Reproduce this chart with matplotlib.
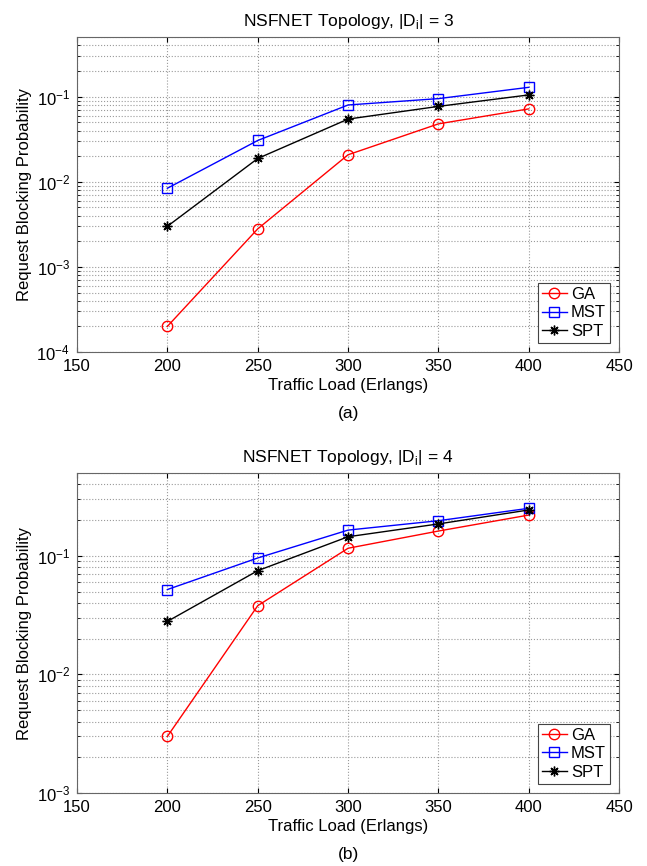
import matplotlib
matplotlib.use("Agg")
import matplotlib.pyplot as plt
from matplotlib.ticker import LogLocator, NullFormatter

plt.rcParams['font.family'] = ['Liberation Sans', 'DejaVu Sans']
plt.rcParams['mathtext.fontset'] = 'custom'
plt.rcParams['mathtext.rm'] = 'Liberation Sans'

loads = [200, 250, 300, 350, 400]
series_names = ["GA", "MST", "SPT"]

# |D_i| = 3
ga_3 = [2.0e-4, 2.8e-3, 0.0208, 0.048, 0.072]
mst_3 = [8.4e-3, 0.0306, 0.080, 0.095, 0.129]
spt_3 = [3.0e-3, 0.0188, 0.0546, 0.077, 0.105]

# |D_i| = 4
ga_4 = [3.0e-3, 0.038, 0.116, 0.162, 0.221]
mst_4 = [0.052, 0.096, 0.165, 0.198, 0.252]
spt_4 = [0.028, 0.075, 0.145, 0.186, 0.244]

styles = [dict(color='red', marker='o', mfc='none', ms=7.5),
          dict(color='blue', marker='s', mfc='none', ms=7),
          dict(color='black', marker=(8, 2, 0), ms=7)]


def draw_panel(ax, data, ylim, title, tag):
    for vals, name, st in zip(data, series_names, styles):
        ax.semilogy(loads, vals, label=name, lw=1.0, mew=1.0, **st)
    ax.set_xlim(150, 450)
    ax.set_ylim(*ylim)
    ax.set_xticks([150, 200, 250, 300, 350, 400, 450])
    ax.yaxis.set_minor_locator(LogLocator(base=10, subs=range(2, 10), numticks=20))
    ax.yaxis.set_minor_formatter(NullFormatter())
    ax.grid(True, which='major', linestyle=':', color='#9a9a9a', lw=0.8)
    ax.grid(True, which='minor', axis='y', linestyle=':', color='#9a9a9a', lw=0.8)
    ax.tick_params(direction='in', which='both', top=True, right=True, labelsize=12)
    ax.tick_params(axis='x', pad=5)
    ax.tick_params(axis='y', pad=5)
    ax.tick_params(which='minor', length=2)
    for s in ax.spines.values():
        s.set_color('#666666')
        s.set_linewidth(0.8)
    ax.set_title(title, fontsize=12.5, pad=8)
    ax.set_xlabel("Traffic Load (Erlangs)", fontsize=12, labelpad=3)
    ax.set_ylabel("Request Blocking Probability", fontsize=12, labelpad=3)
    leg = ax.legend(loc='lower right', fontsize=12, fancybox=False, framealpha=1,
                    edgecolor='#444444', handlelength=1.5, handletextpad=0.25,
                    borderpad=0.25, labelspacing=0.2, borderaxespad=0.55)
    leg.get_frame().set_linewidth(0.8)
    ax.text(0.5, -0.17, tag, transform=ax.transAxes, ha='center', va='top', fontsize=12.5)


fig = plt.figure(figsize=(6.47, 8.66), dpi=100)
ax1 = fig.add_axes([0.119, 0.5935, 0.838, 0.3635])
ax2 = fig.add_axes([0.119, 0.0843, 0.838, 0.3695])

draw_panel(ax1, [ga_3, mst_3, spt_3], (1e-4, 0.5),
           r"NSFNET Topology, |D$_{\mathrm{i}}$| = 3", "(a)")
draw_panel(ax2, [ga_4, mst_4, spt_4], (1e-3, 0.5),
           r"NSFNET Topology, |D$_{\mathrm{i}}$| = 4", "(b)")

fig.savefig("out.png", dpi=100)
